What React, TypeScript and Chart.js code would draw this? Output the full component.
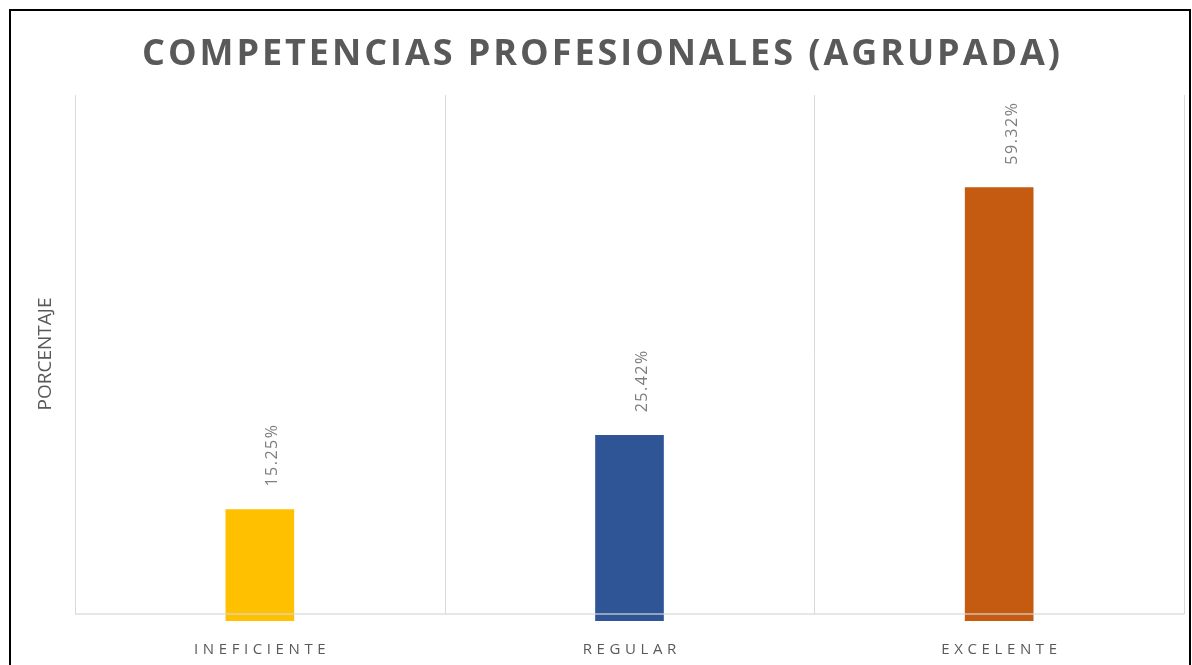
import React, { useEffect, useRef } from "react";
import { Chart, registerables } from "chart.js";

Chart.register(...registerables);

const categories = ["INEFICIENTE", "REGULAR", "EXCELENTE"];
const values = [15.25, 25.42, 59.32];
const valueLabels = ["15.25%", "25.42%", "59.32%"];
const barColors = ["#FFC000", "#2F5597", "#C55A11"];
const chartTitle = "COMPETENCIAS PROFESIONALES (AGRUPADA)";
const yAxisTitle = "PORCENTAJE";
const yMin = 0;
const yMax = 72;

const FONT = '"Open Sans", "Liberation Sans", sans-serif';

const decorPlugin = {
  id: "decor",
  beforeDatasetsDraw(chart: any) {
    const ctx = chart.ctx;
    const xs = chart.scales.x;
    const ys = chart.scales.y;
    const top = chart.chartArea.top;
    const baseY = ys.getPixelForValue(0) - 7;
    ctx.save();
    ctx.strokeStyle = "#d9d9d9";
    ctx.lineWidth = 1;
    for (let i = 0; i <= categories.length; i++) {
      const px = Math.round(xs.getPixelForValue(i - 0.5)) + 0.5;
      ctx.beginPath();
      ctx.moveTo(px, top);
      ctx.lineTo(px, baseY);
      ctx.stroke();
    }
    ctx.restore();
  },
  afterDatasetsDraw(chart: any) {
    const ctx = chart.ctx;
    const xs = chart.scales.x;
    const ys = chart.scales.y;
    const baseY = ys.getPixelForValue(0) - 7;
    const left = xs.getPixelForValue(-0.5);
    const right = xs.getPixelForValue(categories.length - 0.5);
    ctx.save();
    ctx.strokeStyle = "rgba(215,215,215,0.8)";
    ctx.lineWidth = 1.5;
    ctx.beginPath();
    ctx.moveTo(left, baseY);
    ctx.lineTo(right + 0.5, baseY);
    ctx.stroke();
    ctx.restore();

    // data labels
    const meta = chart.getDatasetMeta(0);
    ctx.save();
    ctx.beginPath();
    ctx.rect(0, chart.chartArea.top - 1, chart.width, chart.height);
    ctx.clip();
    ctx.fillStyle = "#7f7f7f";
    ctx.font = `16px ${FONT}`;
    (ctx as any).letterSpacing = "1.5px";
    ctx.textAlign = "left";
    ctx.textBaseline = "middle";
    meta.data.forEach((bar: any, i: number) => {
      ctx.save();
      ctx.translate(bar.x + 13, bar.y - 23);
      ctx.rotate(-Math.PI / 2);
      ctx.fillText(valueLabels[i], 0, 0);
      ctx.restore();
    });
    ctx.restore();
  },
  afterDraw(chart: any) {
    const ctx = chart.ctx;
    const xs = chart.scales.x;
    // title
    ctx.save();
    ctx.font = `bold 36px ${FONT}`;
    ctx.fillStyle = "#595959";
    ctx.textBaseline = "middle";
    ctx.textAlign = "left";
    (ctx as any).letterSpacing = "0px";
    const natural = ctx.measureText(chartTitle).width;
    const targetWidth = 918;
    const ls = Math.max(0, (targetWidth - natural) / (chartTitle.length - 1));
    (ctx as any).letterSpacing = `${ls}px`;
    ctx.fillText(chartTitle, 142, 55);
    ctx.restore();

    // x labels
    ctx.save();
    ctx.font = `15px ${FONT}`;
    ctx.fillStyle = "#595959";
    (ctx as any).letterSpacing = "4.6px";
    ctx.textAlign = "center";
    ctx.textBaseline = "middle";
    categories.forEach((c, i) => {
      ctx.fillText(c, xs.getPixelForValue(i) + 2.3, 650);
    });
    ctx.restore();

    // y axis title
    ctx.save();
    ctx.font = `19px ${FONT}`;
    ctx.fillStyle = "#595959";
    ctx.textAlign = "center";
    ctx.textBaseline = "middle";
    ctx.translate(46, 354);
    ctx.rotate(-Math.PI / 2);
    ctx.fillText(yAxisTitle, 0, 0);
    ctx.restore();
  },
};

export default function App() {
  const canvasRef = useRef<HTMLCanvasElement | null>(null);

  useEffect(() => {
    document.body.style.margin = "0";
    document.body.style.overflow = "hidden";
    let chart: Chart | null = null;
    let cancelled = false;
    const fonts = (document as any).fonts;
    const ready = fonts
      ? Promise.all([
          fonts.load(`bold 36px "Open Sans"`),
          fonts.load(`16px "Open Sans"`),
        ]).catch(() => null)
      : Promise.resolve(null);
    ready.then(() => {
      if (cancelled || !canvasRef.current) return;
      chart = new Chart(canvasRef.current, {
        type: "bar",
        data: {
          labels: categories,
          datasets: [
            {
              data: values,
              backgroundColor: barColors,
              borderWidth: 0,
              barThickness: 68,
            },
          ],
        },
        options: {
          responsive: false,
          maintainAspectRatio: false,
          animation: false,
          devicePixelRatio: 1,
          layout: { padding: { left: 75, right: 8, top: 95, bottom: 44 } },
          scales: {
            x: { display: false, offset: true },
            y: { display: false, min: yMin, max: yMax },
          },
          plugins: {
            legend: { display: false },
            tooltip: { enabled: false },
            title: { display: false },
          },
        },
        plugins: [decorPlugin],
      });
    });
    return () => {
      cancelled = true;
      if (chart) chart.destroy();
    };
  }, []);

  return (
    <div style={{ position: "fixed", left: 0, top: 0, width: 1192, height: 665, background: "#fff", overflow: "hidden" }}>
      <canvas ref={canvasRef} width={1192} height={665} style={{ display: "block", position: "absolute", left: 0, top: 0 }} />
      <div
        style={{
          position: "absolute",
          left: 9,
          top: 9,
          width: 1182,
          height: 700,
          border: "2px solid #000",
          boxSizing: "border-box",
          pointerEvents: "none",
        }}
      />
    </div>
  );
}
